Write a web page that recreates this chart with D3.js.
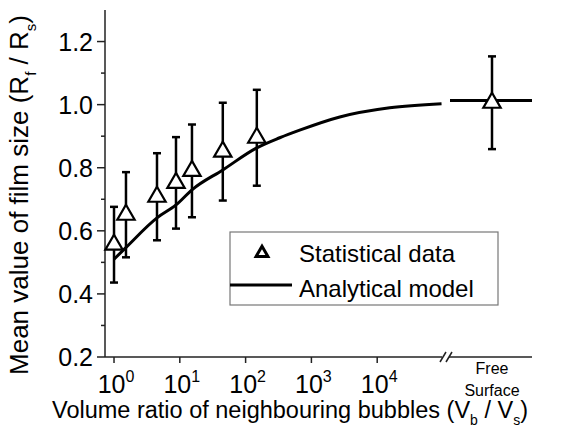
<!DOCTYPE html>
<html>
  <head>
    <meta charset="utf-8">
    <title>Film size vs volume ratio</title>
    <script src="https://cdn.jsdelivr.net/npm/d3@7"></script>
    <style>
      body { margin: 0; background: #fff; }
      svg { display: block; font-family: "Liberation Sans", Arial, sans-serif; }
      .axis line { stroke: #222; stroke-width: 1.5; fill: none; }
      .bar { stroke: #000; stroke-width: 2.5; fill: none; }
      .model { stroke: #000; stroke-width: 3; fill: none; }
      .tri { stroke: #000; stroke-width: 2.2; fill: #fff; }
    </style>
  </head>
  <body>
    <svg id="chart" width="584" height="439"></svg>
    <script>
      // statistical data (volume ratio, mean film size, error half-width)
      ratios = [1, 1.52, 4.5, 8.75, 15.3, 45, 148];
      means = [0.556, 0.651, 0.708, 0.752, 0.790, 0.851, 0.895];
      errors = [0.12, 0.135, 0.138, 0.145, 0.147, 0.155, 0.152];
      // free surface point
      freeLabel = ["Free Surface"];
      freeMean = [1.006];
      freeError = [0.147];
      freeModel = [1.013];
      // analytical model
      modelRatios = [1, 1.5, 4.5, 8.75, 15.3, 45, 148, 330, 680, 2700, 15500, 95000];
      modelValues = [0.51, 0.546, 0.641, 0.682, 0.730, 0.793, 0.863, 0.895, 0.92, 0.961, 0.99, 1.003];
      // ticks
      xTicks = [1, 10, 100, 1000, 10000];
      xExponents = ["0", "1", "2", "3", "4"];
      yTicks = [0.2, 0.4, 0.6, 0.8, 1.0, 1.2];
      yMinorTicks = [0.3, 0.5, 0.7, 0.9, 1.1];
      legendLabels = ["Statistical data", "Analytical model"];

      svg = d3.select("#chart");
      x = d3.scaleLog()
        .domain([Math.pow(10, -0.137), 1e5])
        .range([105, 443]);
      xFree = d3.scalePoint()
        .domain(freeLabel)
        .range([452, 532])
        .padding(0.5);
      y = d3.scaleLinear()
        .domain([0.2, 1.3])
        .range([357, 10]);

      // y axis
      yAxis = svg.append("g")
        .classed("axis", true)
        .attr("transform", "translate(105,0)");
      yAxis.append("line")
        .attr("y1", y(1.3)).attr("y2", y(0.2));
      yAxis.selectAll(".major")
        .data(yTicks)
        .enter().append("line")
          .attr("x1", -8).attr("x2", 0)
          .attr("y1", function(d) { return y(d); })
          .attr("y2", function(d) { return y(d); });
      yAxis.selectAll(".minor")
        .data(yMinorTicks)
        .enter().append("line")
          .attr("x1", -4).attr("x2", 0)
          .attr("y1", function(d) { return y(d); })
          .attr("y2", function(d) { return y(d); });
      yAxis.selectAll("text")
        .data(yTicks)
        .enter().append("text")
          .attr("x", -12)
          .attr("y", function(d) { return y(d); })
          .attr("dy", "0.36em")
          .attr("text-anchor", "end")
          .style("font-size", "25px")
          .text(function(d) { return d3.format(".1f")(d); });

      // x axis with break
      xAxis = svg.append("g")
        .classed("axis", true)
        .attr("transform", "translate(0,357)");
      xAxis.append("line")
        .attr("x1", 105).attr("x2", x(1e5) - 1);
      xAxis.append("line")
        .attr("x1", x(1e5) + 6).attr("x2", xFree.range()[1]);
      xAxis.selectAll(".brk")
        .data([0, 6])
        .enter().append("line")
          .attr("x1", function(d) { return x(1e5) - 3 + d; })
          .attr("x2", function(d) { return x(1e5) + 3 + d; })
          .attr("y1", 5).attr("y2", -5);
      xAxis.selectAll(".tick")
        .data(xTicks)
        .enter().append("line")
          .attr("x1", function(d) { return x(d); })
          .attr("x2", function(d) { return x(d); })
          .attr("y1", 0).attr("y2", 6);
      xLabels = xAxis.selectAll(".lab")
        .data(xTicks)
        .enter().append("text")
          .attr("x", function(d) { return x(d) + 2; })
          .attr("y", 36)
          .attr("text-anchor", "middle")
          .style("font-size", "25px");
      xLabels.append("tspan").text("10");
      xLabels.append("tspan")
        .attr("dy", -11)
        .style("font-size", "16px")
        .text(function(d, i) { return xExponents[i]; });
      freeText = xAxis.append("text")
        .attr("text-anchor", "middle")
        .style("font-size", "16px");
      freeText.append("tspan")
        .attr("x", xFree(freeLabel[0])).attr("y", 17)
        .text("Free");
      freeText.append("tspan")
        .attr("x", xFree(freeLabel[0])).attr("y", 39)
        .text("Surface");

      // axis titles
      xTitle = svg.append("text")
        .attr("x", 290).attr("y", 418)
        .attr("text-anchor", "middle")
        .style("font-size", "23.5px");
      xTitle.append("tspan").text("Volume ratio of neighbouring bubbles (V");
      xTitle.append("tspan").attr("dy", 7).style("font-size", "14px").text("b");
      xTitle.append("tspan").attr("dy", -7).text(" / V");
      xTitle.append("tspan").attr("dy", 7).style("font-size", "14px").text("s");
      xTitle.append("tspan").attr("dy", -7).text(")");
      yTitle = svg.append("text")
        .attr("transform", "translate(28,195) rotate(-90)")
        .attr("text-anchor", "middle")
        .style("font-size", "26px");
      yTitle.append("tspan").text("Mean value of film size (R");
      yTitle.append("tspan").attr("dy", 8).style("font-size", "15px").text("f");
      yTitle.append("tspan").attr("dy", -8).text(" / R");
      yTitle.append("tspan").attr("dy", 8).style("font-size", "15px").text("s");
      yTitle.append("tspan").attr("dy", -8).text(")");

      // model curve
      line = d3.line()
        .x(function(d, i) { return x(modelRatios[i]); })
        .y(function(d) { return y(d); })
        .curve(d3.curveMonotoneX);
      svg.append("path")
        .classed("model", true)
        .attr("d", line(modelValues));
      svg.append("line")
        .classed("model", true)
        .attr("x1", xFree.range()[0] - 2).attr("x2", xFree.range()[1])
        .attr("y1", y(freeModel[0])).attr("y2", y(freeModel[0]));

      // error bars and triangles
      points = ratios.map(function(d, i) {
        return { px: x(d), m: means[i], e: errors[i] };
      }).concat([{ px: xFree(freeLabel[0]), m: freeMean[0], e: freeError[0] }]);
      bars = svg.selectAll(".err")
        .data(points)
        .enter().append("g")
          .classed("bar", true);
      bars.append("line")
        .attr("x1", function(d) { return d.px; })
        .attr("x2", function(d) { return d.px; })
        .attr("y1", function(d) { return y(d.m + d.e); })
        .attr("y2", function(d) { return y(d.m - d.e); });
      bars.append("line")
        .attr("x1", function(d) { return d.px - 4; })
        .attr("x2", function(d) { return d.px + 4; })
        .attr("y1", function(d) { return y(d.m + d.e); })
        .attr("y2", function(d) { return y(d.m + d.e); });
      bars.append("line")
        .attr("x1", function(d) { return d.px - 4; })
        .attr("x2", function(d) { return d.px + 4; })
        .attr("y1", function(d) { return y(d.m - d.e); })
        .attr("y2", function(d) { return y(d.m - d.e); });
      triangle = d3.symbol().type(d3.symbolTriangle).size(130);
      svg.selectAll(".tri")
        .data(points)
        .enter().append("path")
          .classed("tri", true)
          .attr("transform", function(d) { return "translate(" + d.px + "," + y(d.m) + ")"; })
          .attr("d", triangle);

      // legend
      legend = svg.append("g")
        .attr("transform", "translate(230,232)");
      legend.append("rect")
        .attr("width", 268).attr("height", 73)
        .style("fill", "#fff")
        .style("stroke", "#777")
        .style("stroke-width", 1.2);
      legend.append("path")
        .attr("transform", "translate(32,21)")
        .attr("d", d3.symbol().type(d3.symbolTriangle).size(60))
        .style("fill", "#fff")
        .style("stroke", "#000")
        .style("stroke-width", 3);
      legend.append("line")
        .classed("model", true)
        .attr("x1", 0).attr("x2", 62)
        .attr("y1", 53).attr("y2", 53);
      legend.selectAll("text")
        .data(legendLabels)
        .enter().append("text")
          .attr("x", 69)
          .attr("y", function(d, i) { return 30 + i * 35; })
          .style("font-size", "24px")
          .text(function(d) { return d; });
    </script>
  </body>
</html>
